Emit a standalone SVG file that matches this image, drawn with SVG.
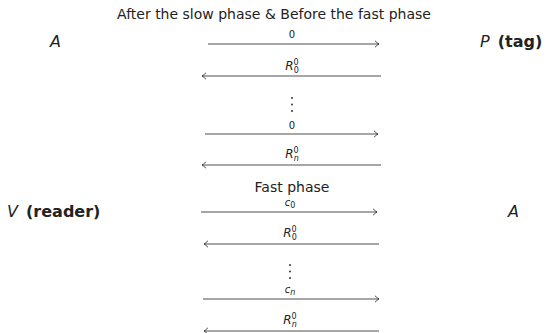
<svg xmlns="http://www.w3.org/2000/svg" width="548" height="333" viewBox="0 0 548 333">
<defs>
<style>
text{font-family:"DejaVu Sans","Liberation Sans",sans-serif;fill:#222}
.t{font-size:14px;text-anchor:middle}
.p{font-size:16px}
.it{font-style:italic}
.b{font-weight:bold}
.l{font-size:10px;text-anchor:middle}
.r{font-size:12px;font-style:italic}
.s{font-size:8px}
.ln{stroke:#222;stroke-width:0.8;fill:none}
.dot{fill:#222}
</style>
<marker id="ah" markerWidth="10" markerHeight="10" refX="0" refY="0" viewBox="-6 -5 8 10" orient="auto-start-reverse" markerUnits="userSpaceOnUse">
<path d="M-4,-3.2 Q-1.2,-0.6 0,0 Q-1.2,0.6 -4,3.2" fill="none" stroke="#222" stroke-width="0.8"/>
</marker>
</defs>
<rect width="548" height="333" fill="#fff"/>
<text class="t" x="274" y="19">After the slow phase &amp; Before the fast phase</text>
<text class="t" x="292" y="192">Fast phase</text>
<g id="A-top"><text class="p it" x="50" y="47">A</text></g>
<g id="P-tag"><text class="p" x="480" y="47"><tspan class="it">P</tspan> <tspan class="b" dx="3">(tag)</tspan></text></g>
<g id="V-reader"><text class="p" x="7" y="217"><tspan class="it">V</tspan> <tspan class="b" dx="3">(reader)</tspan></text></g>
<g id="A-right"><text class="p it" x="508" y="217">A</text></g>
<g id="connectors">
<line class="ln" x1="208" y1="44" x2="379" y2="44" marker-end="url(#ah)"/>
<text class="l" x="292" y="38">0</text>
<line class="ln" x1="381" y1="76" x2="202" y2="76" marker-end="url(#ah)"/>
<text class="l" x="292" y="70"><tspan class="r">R</tspan><tspan class="s" dy="2.5">0</tspan><tspan class="s" dx="-5.1" dy="-8">0</tspan></text>
<g class="dot"><circle cx="292" cy="98" r="0.9"/><circle cx="292" cy="104.5" r="0.9"/><circle cx="292" cy="111" r="0.9"/></g>
<line class="ln" x1="205" y1="134" x2="378" y2="134" marker-end="url(#ah)"/>
<text class="l" x="292" y="129">0</text>
<line class="ln" x1="381" y1="165" x2="202" y2="165" marker-end="url(#ah)"/>
<text class="l" x="292" y="158"><tspan class="r">R</tspan><tspan class="s it" dy="2.5">n</tspan><tspan class="s" dx="-5.1" dy="-8">0</tspan></text>
<line class="ln" x1="201" y1="212" x2="377" y2="212" marker-end="url(#ah)"/>
<text class="l" x="290" y="206"><tspan class="it">c</tspan><tspan class="s" dy="2">0</tspan></text>
<line class="ln" x1="379" y1="244" x2="204" y2="244" marker-end="url(#ah)"/>
<text class="l" x="290" y="237"><tspan class="r">R</tspan><tspan class="s" dy="2.5">0</tspan><tspan class="s" dx="-5.1" dy="-8">0</tspan></text>
<g class="dot"><circle cx="290" cy="265" r="0.9"/><circle cx="290" cy="271.5" r="0.9"/><circle cx="290" cy="278" r="0.9"/></g>
<line class="ln" x1="203" y1="299" x2="379" y2="299" marker-end="url(#ah)"/>
<text class="l" x="290" y="293"><tspan class="it">c</tspan><tspan class="s it" dy="2">n</tspan></text>
<line class="ln" x1="379" y1="331" x2="204" y2="331" marker-end="url(#ah)"/>
<text class="l" x="290" y="324"><tspan class="r">R</tspan><tspan class="s it" dy="2.5">n</tspan><tspan class="s" dx="-5.1" dy="-8">0</tspan></text>
</g>
</svg>
